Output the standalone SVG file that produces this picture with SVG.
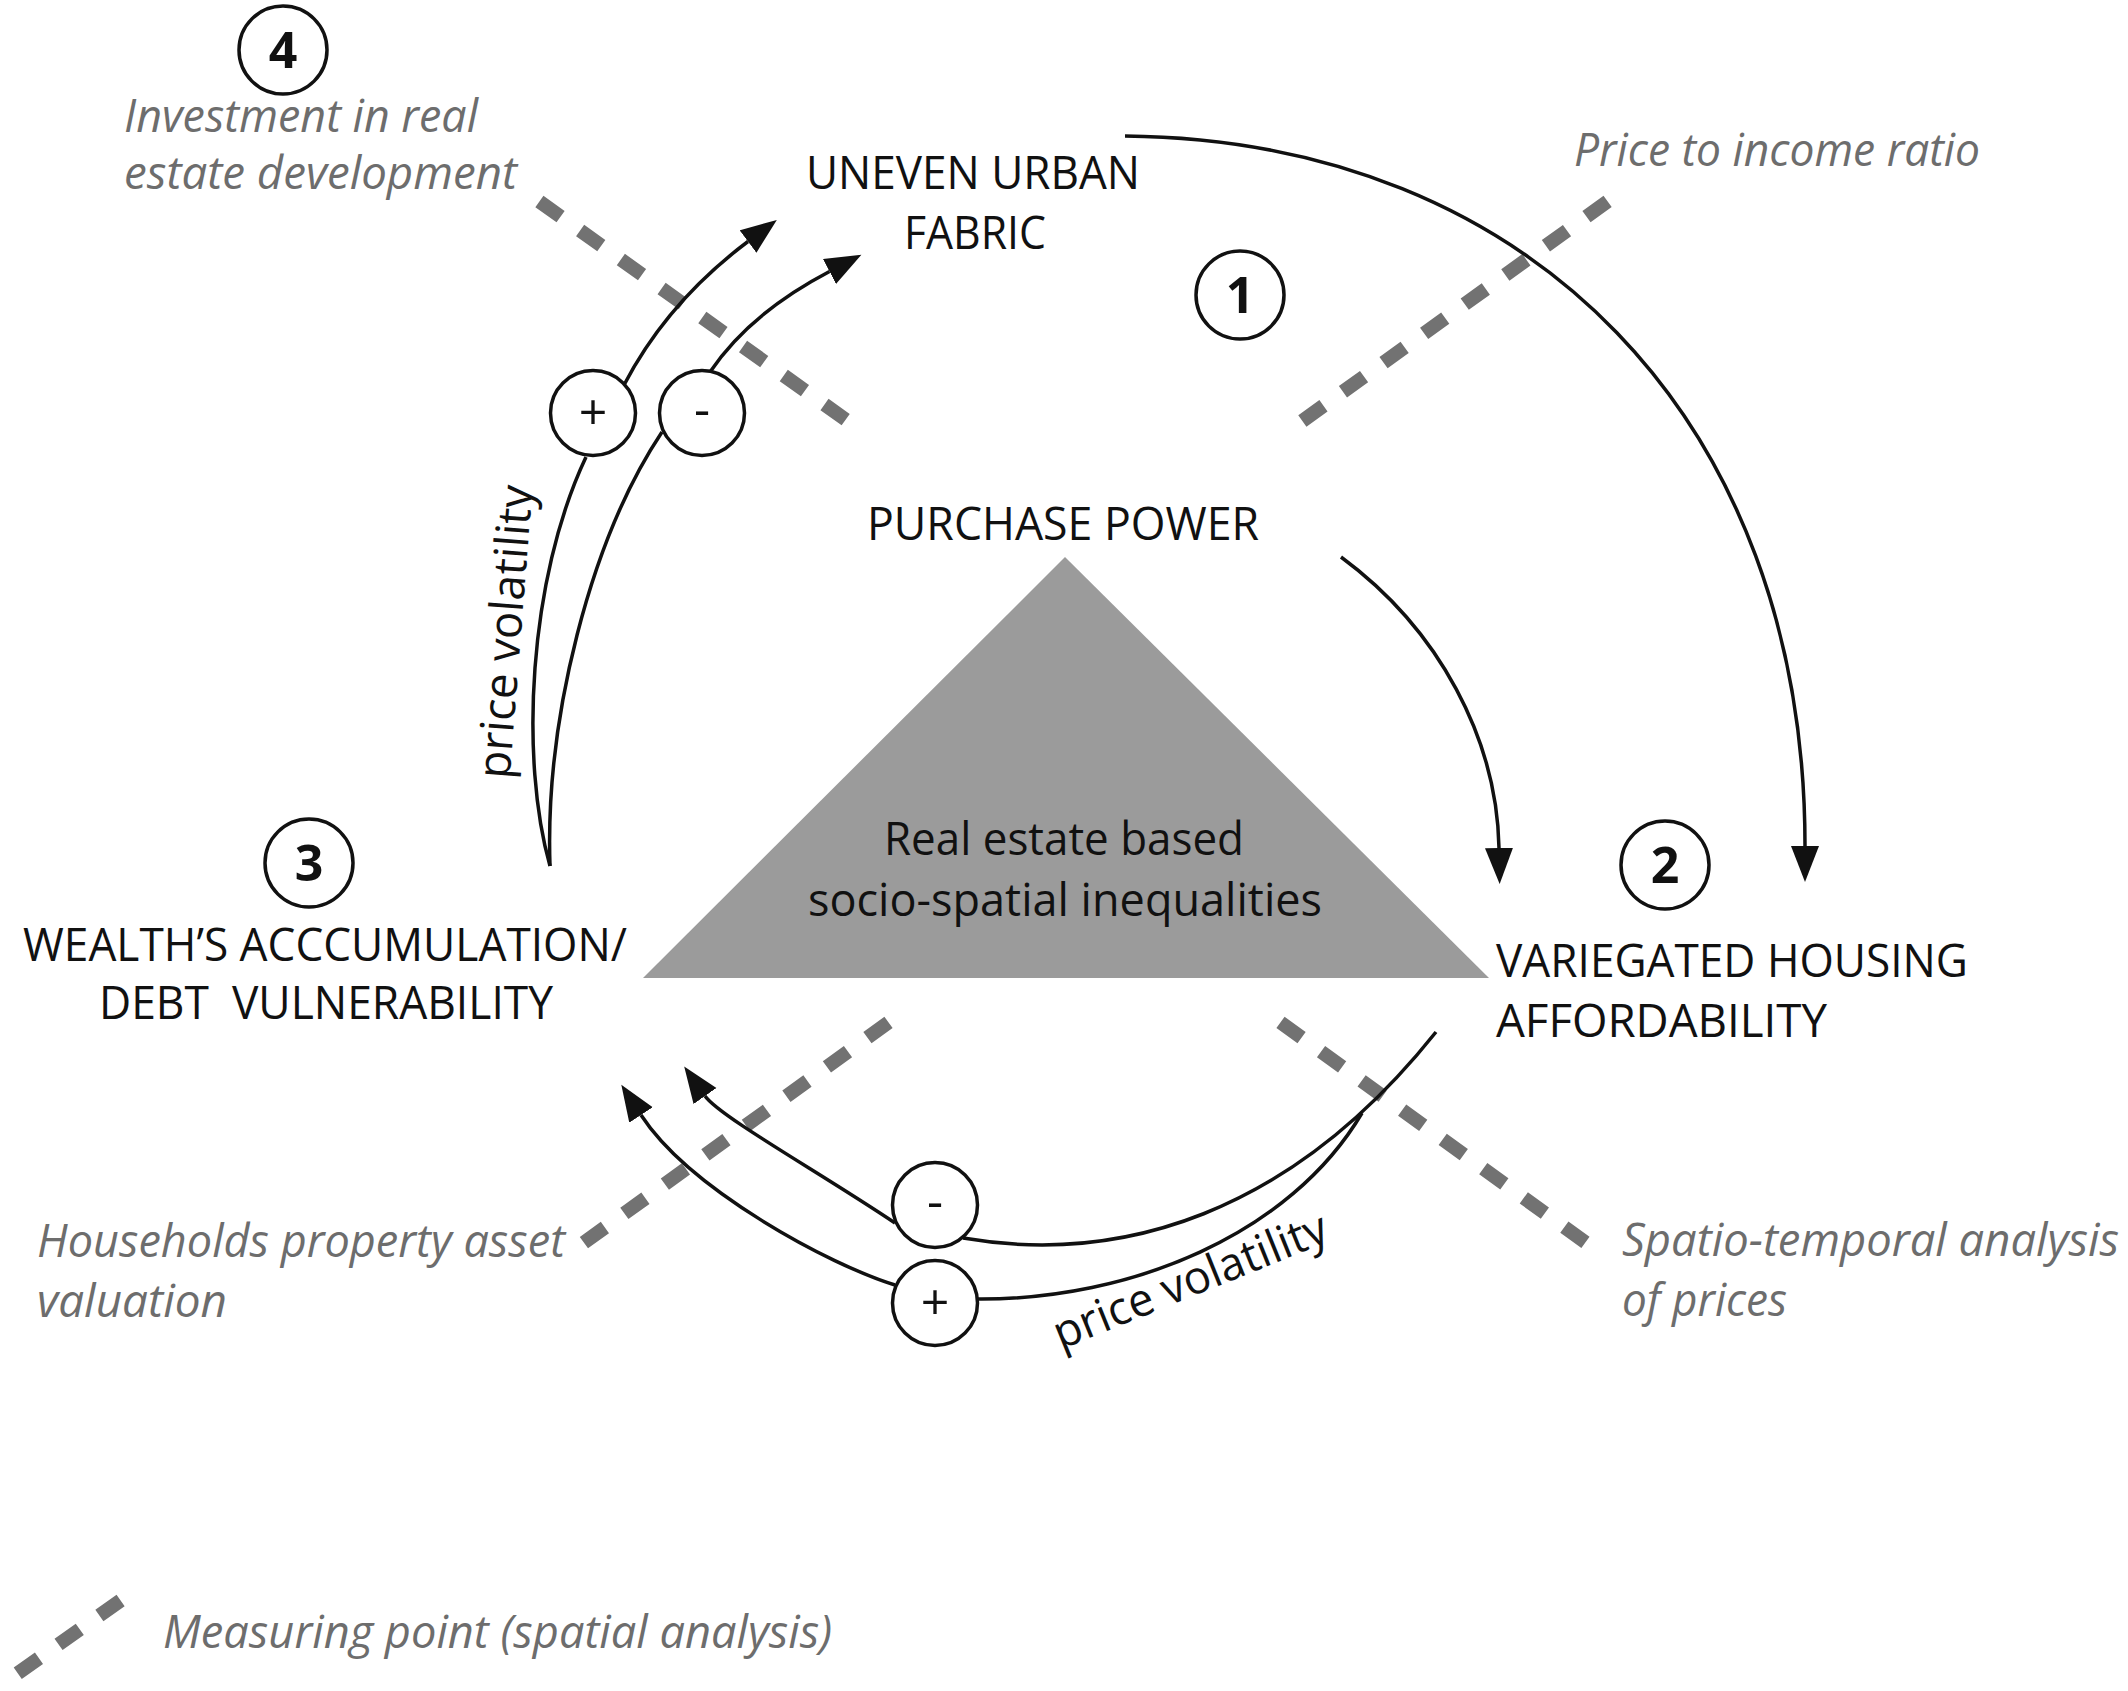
<svg xmlns="http://www.w3.org/2000/svg" width="2128" height="1691" viewBox="0 0 2128 1691">
<defs>
<style>
.lbl{font-family:"Open Sans","Liberation Sans",sans-serif;font-size:46px;fill:#111}
.mid{text-anchor:middle}
.num{font-family:"Open Sans","Liberation Sans",sans-serif;font-size:50px;font-weight:bold;fill:#111;text-anchor:middle}
.meas{font-family:"Open Sans","Liberation Sans",sans-serif;font-size:46px;font-style:italic;fill:#6d6d6d}
.sign{font-family:"Open Sans","Liberation Sans",sans-serif;font-size:50px;fill:#111;text-anchor:middle}
.ring{fill:#fff;stroke:#111;stroke-width:3.5}
.conn{fill:none;stroke:#111;stroke-width:3.5}
.arr{marker-end:url(#ah)}
.dash{fill:none;stroke:#727272;stroke-width:14;stroke-dasharray:26 24}
</style>
<marker id="ah" markerUnits="userSpaceOnUse" markerWidth="40" markerHeight="30" refX="0" refY="14" orient="auto"><path d="M0,0 L36,14 L0,28 z" fill="#111"/></marker>
</defs>
<rect width="2128" height="1691" fill="#fff"/>

<g id="measuring-points">
<path class="dash" d="M539.4,201.5 L845.7,419.6"/>
<path class="dash" d="M1607.6,201.4 L1302.3,421"/>
<path class="dash" d="M888.5,1022.4 L583.9,1242.7"/>
<path class="dash" d="M1280.5,1022.4 L1585.5,1242.4"/>
</g>

<g id="core">
<polygon points="1065,557 643,978 1489,978" fill="#9b9b9b"/>
<text class="lbl mid" x="1064" y="855" font-size="44" textLength="360" lengthAdjust="spacingAndGlyphs">Real estate based</text>
<text class="lbl mid" x="1065" y="916" font-size="44" textLength="514" lengthAdjust="spacingAndGlyphs">socio-spatial inequalities</text>
</g>

<g id="connectors">
<path class="conn arr" d="M1125,136 C1530,140 1805,420 1805,846"/>
<path class="conn arr" d="M1341,557 C1440,630 1497,740 1499,848"/>
<path class="conn" d="M550,866 C520,760 528,580 586,457"/>
<path class="conn" d="M550,866 C545,720 590,540 662,432"/>
<path class="conn arr" d="M624,385 C650,335 690,285 748,241.5"/>
<path class="conn arr" d="M710,372 C735,335 775,300 829.5,271.5"/>
<path class="conn" d="M963,1238 C1120,1265 1290,1215 1436,1032"/>
<path class="conn" d="M978,1299 C1130,1300 1290,1235 1362,1113"/>
<path class="conn arr" d="M895,1223 C820,1172.6 719.5,1116.5 705,1096"/>
<path class="conn arr" d="M895,1285 C830,1265 690,1190 641,1115"/>
</g>

<g id="sign-plus-top"><circle class="ring" cx="593" cy="413" r="42.5"/><text class="sign" x="593" y="430">+</text></g>
<g id="sign-minus-top"><circle class="ring" cx="702" cy="413" r="42.5"/><text class="sign" x="702" y="427">-</text></g>
<g id="sign-minus-bottom"><circle class="ring" cx="935" cy="1205" r="42.5"/><text class="sign" x="935" y="1219">-</text></g>
<g id="sign-plus-bottom"><circle class="ring" cx="935" cy="1303" r="42.5"/><text class="sign" x="935" y="1320">+</text></g>

<g id="label-volatility-left"><text class="lbl mid" font-size="44" transform="translate(521,633) rotate(-85.5)" textLength="294" lengthAdjust="spacingAndGlyphs">price volatility</text></g>
<g id="label-volatility-bottom"><text class="lbl mid" font-size="44" transform="translate(1196,1295) rotate(-22)" textLength="292" lengthAdjust="spacingAndGlyphs">price volatility</text></g>

<g id="node-1">
<circle class="ring" cx="1240" cy="295" r="44"/><text class="num" x="1240" y="313">1</text>
<text class="lbl mid" x="973" y="189" textLength="334" lengthAdjust="spacingAndGlyphs">UNEVEN URBAN</text>
<text class="lbl mid" x="975" y="249" textLength="142" lengthAdjust="spacingAndGlyphs">FABRIC</text>
</g>
<g id="node-purchase">
<text class="lbl mid" x="1063" y="540" textLength="392" lengthAdjust="spacingAndGlyphs">PURCHASE POWER</text>
</g>
<g id="node-2">
<circle class="ring" cx="1665" cy="865" r="44"/><text class="num" x="1665" y="883">2</text>
<text class="lbl" x="1496" y="977" textLength="472" lengthAdjust="spacingAndGlyphs">VARIEGATED HOUSING</text>
<text class="lbl" x="1496" y="1037" textLength="331" lengthAdjust="spacingAndGlyphs">AFFORDABILITY</text>
</g>
<g id="node-3">
<circle class="ring" cx="309" cy="863" r="44"/><text class="num" x="309" y="881">3</text>
<text class="lbl mid" x="325" y="961" textLength="604" lengthAdjust="spacingAndGlyphs">WEALTH’S ACCCUMULATION/</text>
<text class="lbl mid" x="326" y="1019" textLength="454" lengthAdjust="spacingAndGlyphs" xml:space="preserve">DEBT  VULNERABILITY</text>
</g>
<g id="node-4">
<circle class="ring" cx="283" cy="50" r="44"/><text class="num" x="283" y="68">4</text>
<text class="meas" x="124" y="132" textLength="354" lengthAdjust="spacingAndGlyphs">Investment in real</text>
<text class="meas" x="124" y="189" textLength="393" lengthAdjust="spacingAndGlyphs">estate development</text>
</g>

<g id="measure-labels">
<text class="meas" x="1574" y="166" textLength="406" lengthAdjust="spacingAndGlyphs">Price to income ratio</text>
<text class="meas" x="37" y="1257" textLength="528" lengthAdjust="spacingAndGlyphs">Households property asset</text>
<text class="meas" x="37" y="1317" textLength="190" lengthAdjust="spacingAndGlyphs">valuation</text>
<text class="meas" x="1622" y="1256" textLength="497" lengthAdjust="spacingAndGlyphs">Spatio-temporal analysis</text>
<text class="meas" x="1622" y="1316" textLength="165" lengthAdjust="spacingAndGlyphs">of prices</text>
</g>

<g id="legend">
<path class="dash" d="M120.6,1600.5 L17.7,1673.3"/>
<text class="meas" x="163" y="1648" textLength="669" lengthAdjust="spacingAndGlyphs">Measuring point (spatial analysis)</text>
</g>
</svg>
